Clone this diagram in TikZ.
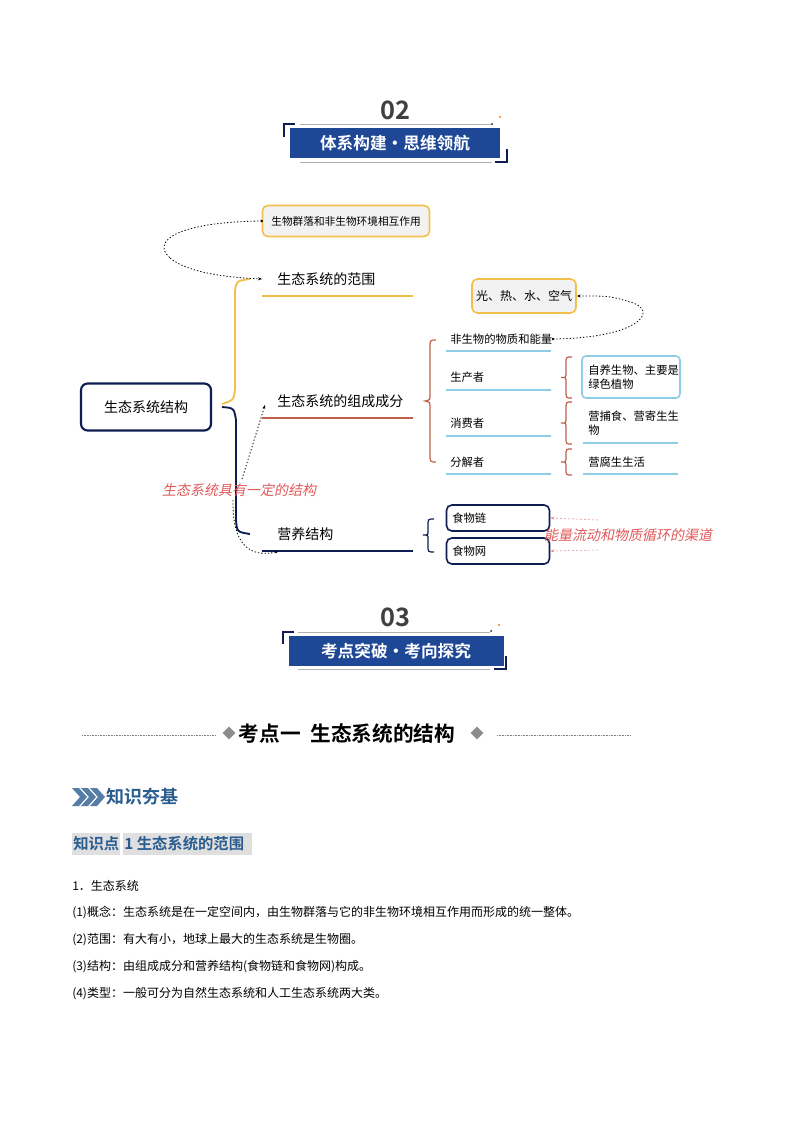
\documentclass[tikz,border=0pt]{standalone}
\usepackage{fontspec}
\setmainfont{Noto Sans CJK SC}
\newfontfamily\cjkb{Noto Sans CJK SC Bold}
\usetikzlibrary{arrows.meta,shapes.geometric}
\definecolor{navy}{HTML}{0E1E52}
\definecolor{bannerblue}{HTML}{1E4796}
\definecolor{yel}{HTML}{F2C04A}
\definecolor{redb}{HTML}{C0604A}
\definecolor{lblue}{HTML}{8FCDE6}
\definecolor{pinkred}{HTML}{E05A5A}
\definecolor{hblue}{HTML}{2A5D8F}
\tikzset{
  fs/.style={font=\fontsize{#1}{#1}\selectfont},
  gbox/.style={draw=yel,line width=1.2pt,rounded corners=4pt,fill=gray!10,inner sep=0pt},
  nbox/.style={draw=navy,line width=1.2pt,rounded corners=4pt,fill=white,inner sep=0pt},
  item/.style={fs=8.5,anchor=west,inner sep=0pt},
  dots/.style={dash pattern=on 1pt off 1.5pt,line width=0.6pt},
  brk/.style={line width=0.9pt},
}
\begin{document}
\begin{tikzpicture}[x=0.75pt,y=-0.75pt]
\useasboundingbox (0,0) rectangle (794,1123);
\fill[white] (0,0) rectangle (794,1123);
% banner 02
\node[fs=19,text=black!75] (n02) at (395,110) {\cjkb 02};
\draw[gray!60,line width=0.5pt] (300,124) -- (492,124) (300,162) -- (492,162);
\draw[navy,line width=1pt] (295,124) -- (284,124) -- (284,137);
\draw[navy,line width=1pt] (495,162) -- (507,162) -- (507,149);
\node[fill=bannerblue,minimum width=210*0.75pt,minimum height=30*0.75pt,text=white,fs=12.5] (b02) at (395,143) {\cjkb 体系构建·思维领航};
\fill[orange] (500,117) circle (1.2);
\fill[navy] (492,124) circle (1);
% banner 03
\node[fs=19,text=black!75] (n03) at (395,617) {\cjkb 03};
\draw[gray!60,line width=0.5pt] (298,632) -- (490,632) (298,669) -- (490,669);
\draw[navy,line width=1pt] (294,632) -- (283,632) -- (283,644);
\draw[navy,line width=1pt] (494,669) -- (506,669) -- (506,656);
\node[fill=bannerblue,minimum width=215*0.75pt,minimum height=30*0.75pt,text=white,fs=12.5] (b03) at (396,651) {\cjkb 考点突破·考向探究};
\fill[orange] (499,625) circle (1.2);
\fill[navy] (491,631) circle (1);
% mind map
\node[draw=navy,line width=1.6pt,rounded corners=5pt,minimum width=130*0.75pt,minimum height=47*0.75pt,fs=10.5] (root) at (146,407) {生态系统结构};
\draw[yel,line width=1.4pt] (222,404) .. controls (234,400) .. (235,388) -- (235,292) .. controls (236,281) .. (250,279);
\draw[navy,line width=1.4pt] (222,407) .. controls (234,408) .. (236,420) -- (236,520) .. controls (237,532) .. (250,534);
\node[fs=10.5,anchor=west,inner sep=0pt] (t1) at (277,279) {生态系统的范围};
\draw[yel,line width=1.1pt] (262,296) -- (413,296);
\node[fs=10.5,anchor=west,inner sep=0pt] (t2) at (277,401) {生态系统的组成成分};
\draw[redb,line width=1.1pt] (262,418) -- (413,418);
\node[fs=10.5,anchor=west,inner sep=0pt] (t3) at (277,534) {营养结构};
\draw[navy,line width=1.1pt] (262,551) -- (413,551);
\node[gbox,minimum width=167*0.75pt,minimum height=31*0.75pt,fs=8] (top) at (346,221) {生物群落和非生物环境相互作用};
\coordinate (c1) at (262,279);
\fill (top.west) circle (1.3);
\draw[dots] (top.west) .. controls (180,222) and (150,240) .. (170,258);
\draw[-{Stealth[length=3pt]},dots] (170,258) .. controls (190,275) and (240,278) .. (c1);
% components
\draw[redb,brk] (436,340) .. controls (430,340) .. (430,348) -- (430,395) .. controls (430,400) .. (425,401) .. controls (430,402) .. (430,408) -- (430,454) .. controls (430,462) .. (436,462);
\node[item] (a1) at (450,339) {非生物的物质和能量};
\node[item] (a2) at (450,377) {生产者};
\node[item] (a3) at (450,423) {消费者};
\node[item] (a4) at (450,462) {分解者};
\foreach \y in {351,390,436,474} \draw[lblue,line width=1pt] (446,\y) -- (551,\y);
\node[gbox,minimum width=104*0.75pt,minimum height=34*0.75pt,fs=9] (air) at (524,296) {光、热、水、空气};
\coordinate (c2) at (553,339);
\fill (c2) circle (1.3);
\draw[dots,-{Stealth[length=3pt]}] (c2) .. controls (640,338) and (660,310) .. (630,302) .. controls (610,296) .. (air.east);
\foreach \a/\b in {357/398,402/444,449/475}{
 \draw[redb,brk] (572,\a) .. controls (566,\a) .. (566,\a+6) -- (566,{(\a+\b)/2-3}) .. controls (566,{(\a+\b)/2}) .. (561,{(\a+\b)/2}) .. controls (566,{(\a+\b)/2}) .. (566,{(\a+\b)/2+3}) -- (566,\b-6) .. controls (566,\b) .. (572,\b);
}
\node[draw=lblue,line width=1.2pt,rounded corners=3pt,minimum width=98*0.75pt,minimum height=42*0.75pt] (p1) at (631,377) {};
\node[item,align=left,fs=8.5] (p1t) at (588,377) {自养生物、主要是\\[2pt]绿色植物};
\node[item,align=left,fs=8.5] (p2t) at (588,423) {营捕食、营寄生生\\[2pt]物};
\node[item] (p3t) at (588,462) {营腐生生活};
\draw[lblue,line width=1pt] (583,443) -- (678,443) (583,474) -- (678,474);
% food
\draw[navy,brk] (434,519) .. controls (428,519) .. (428,526) -- (428,531) .. controls (428,535) .. (423,535) .. controls (428,535) .. (428,539) -- (428,545) .. controls (428,552) .. (434,552);
\node[nbox,minimum width=103*0.75pt,minimum height=26*0.75pt] (f1) at (498,518) {};
\node[item] at (452,518) {食物链};
\node[nbox,minimum width=103*0.75pt,minimum height=26*0.75pt] (f2) at (498,551) {};
\node[item] at (452,551) {食物网};
\node[fs=10.5,text=pinkred,inner sep=0pt] (lab1) at (628,535) {\addfontfeature{FakeSlant=0.2}能量流动和物质循环的渠道};
\coordinate (d1) at (598,520);
\coordinate (d2) at (598,550);
\draw[pinkred!70,dash pattern=on 1.5pt off 1.5pt,-{Stealth[length=3pt]}] (d1) -- (f1.east);
\draw[pinkred!70,dash pattern=on 1.5pt off 1.5pt,-{Stealth[length=3pt]}] (d2) -- (f2.east);
\node[fs=10.5,text=pinkred,inner sep=0pt] (lab2) at (239,490) {\addfontfeature{FakeSlant=0.2}生态系统具有一定的结构};
\coordinate (e1) at (265,405);
\coordinate (e2) at (242,479);
\coordinate (e3) at (276,552);
\draw[dots,-{Stealth[length=3pt]}] (e2) -- (e1);
\draw[dots] (233,500) .. controls (232,545) and (250,558) .. (e3);
\fill (e3) circle (1.3);
% heading
\draw[gray,dash pattern=on 0.6pt off 0.6pt,line width=0.5pt] (82,735) -- (215,735) (497,735) -- (630,735);
\node[diamond,fill=gray!90,inner sep=0pt,minimum size=13*0.75pt] (dm1) at (229,733) {};
\node[diamond,fill=gray!90,inner sep=0pt,minimum size=13*0.75pt] (dm2) at (477,733) {};
\node[fs=15.5,inner sep=0pt] (h1) at (347,734) {\cjkb 考点一\ \ 生态系统的结构};
% zhishi hangji
\foreach \dx in {0,9,18}{
 \fill[hblue!80] (72+\dx,788) -- (79+\dx,788) -- (87+\dx,797) -- (79+\dx,806) -- (72+\dx,806) -- (80+\dx,797) -- cycle;
}
\node[fs=13.5,text=hblue,anchor=west,inner sep=0pt] (h2) at (106,797) {\cjkb 知识夯基};
\fill[gray!25] (72,833) rectangle (120,855);
\fill[gray!25] (123,833) rectangle (252,855);
\node[fs=11.5,text=hblue,anchor=west,inner sep=0pt] (h3) at (73,844) {\cjkb 知识点};
\node[fs=11.5,text=hblue,anchor=west,inner sep=0pt] (h4) at (124,844) {\cjkb 1\ 生态系统的范围};
% body
\foreach \y/\t in {886/{1．生态系统},913/{(1)概念：生态系统是在一定空间内，由生物群落与它的非生物环境相互作用而形成的统一整体。},940/{(2)范围：有大有小，地球上最大的生态系统是生物圈。},967/{(3)结构：由组成成分和营养结构(食物链和食物网)构成。},994/{(4)类型：一般可分为自然生态系统和人工生态系统两大类。}}
 \node[fs=9,anchor=west,inner sep=0pt] at (72,\y) {\t};
\end{tikzpicture}
\end{document}
